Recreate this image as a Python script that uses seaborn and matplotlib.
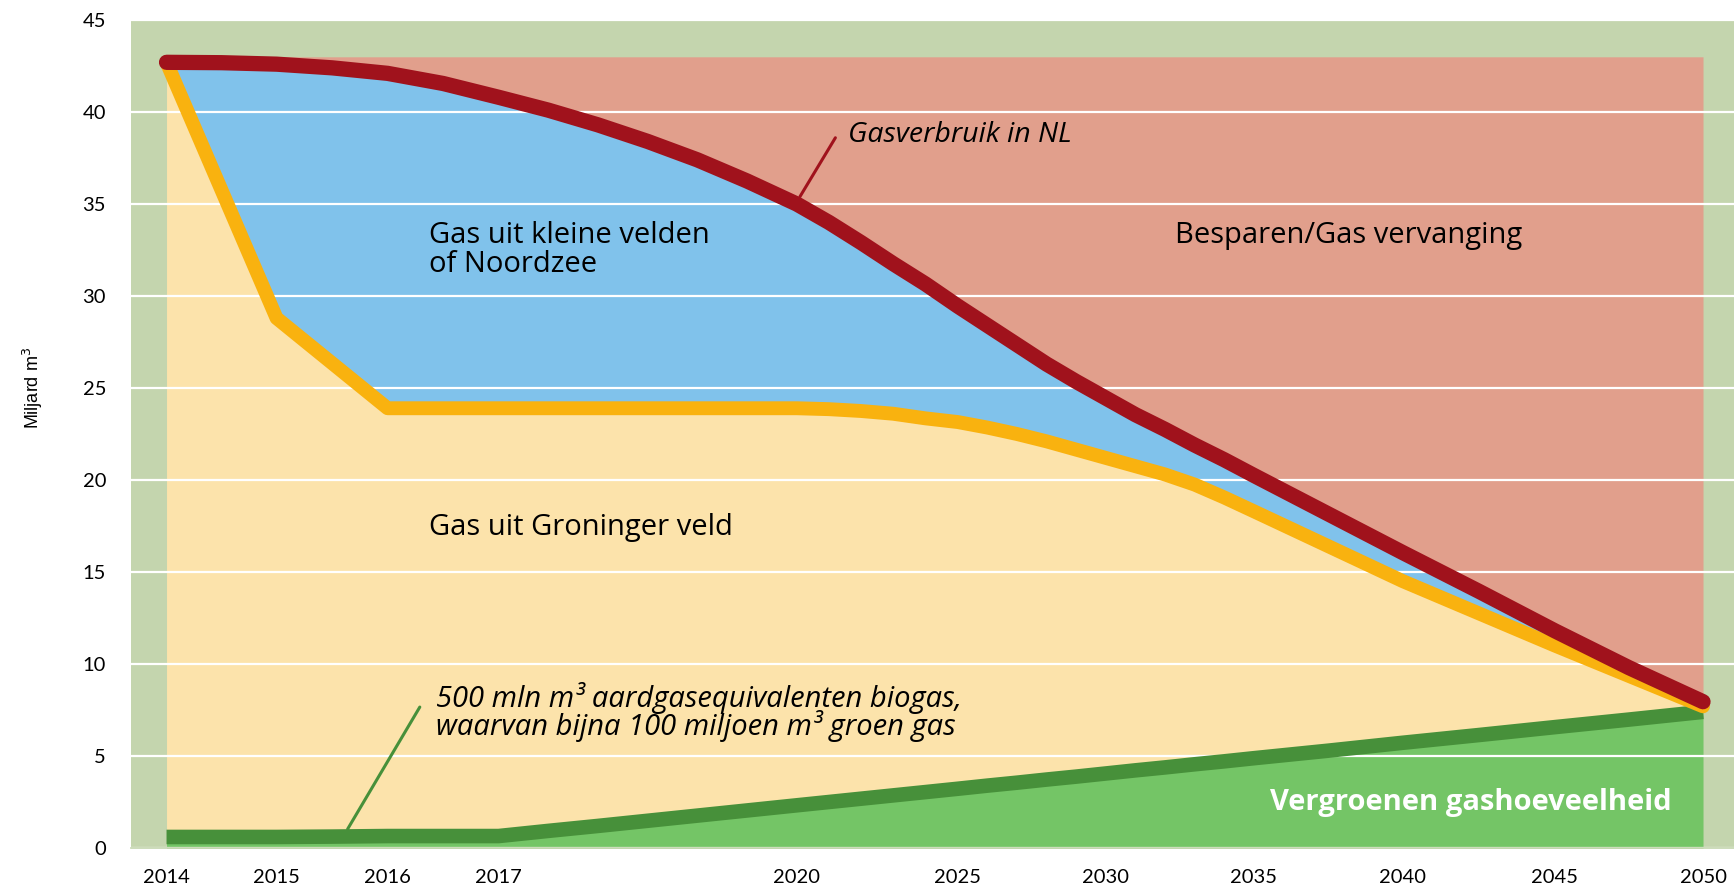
import numpy as np
import pandas as pd
import matplotlib
matplotlib.use("Agg")
import matplotlib.pyplot as plt
import seaborn as sns

# jaren (x-as is niet lineair: 2014-2017 breed, daarna per 5 jaar)
years = [2014, 2014.5, 2015, 2015.5, 2016, 2016.5, 2017, 2017.5, 2018, 2018.5, 2019, 2019.5,
         2020, 2021, 2022, 2023, 2024, 2025, 2026, 2027, 2028, 2029,
         2030, 2031, 2032, 2033, 2034, 2035,
         2037.5, 2040, 2042.5, 2045, 2047.5, 2050]
gasverbruik = [42.7, 42.68, 42.6, 42.4, 42.1, 41.55, 40.8, 40.1, 39.3, 38.4, 37.4, 36.25,
               35.0, 34.0, 32.9, 31.75, 30.65, 29.45, 28.4, 27.35, 26.3, 25.35,
               24.45, 23.55, 22.75, 21.9, 21.1, 20.25,
               18.15, 16.05, 13.95, 11.8, 9.8, 7.95]
groningen = [42.7, 35.75, 28.8, 26.35, 23.9, 23.9, 23.9, 23.9, 23.9, 23.9, 23.9, 23.9,
             23.9, 23.85, 23.75, 23.6, 23.35, 23.15, 22.85, 22.5, 22.1, 21.65,
             21.2, 20.75, 20.3, 19.75, 19.05, 18.3,
             16.4, 14.5, 12.75, 11.0, 9.35, 7.7]
groen_gas = [0.6, 0.6, 0.6, 0.62, 0.65, 0.65, 0.65, 0.93, 1.2, 1.48, 1.76, 2.04,
             2.32, 2.5, 2.68, 2.86, 3.04, 3.22, 3.39, 3.55, 3.72, 3.88,
             4.05, 4.22, 4.38, 4.55, 4.71, 4.88,
             5.29, 5.72, 6.14, 6.57, 6.98, 7.4]
top_level = 43

tick_years = [2014, 2015, 2016, 2017, 2020, 2025, 2030, 2035, 2040, 2045, 2050]
y_ticks = [0, 5, 10, 15, 20, 25, 30, 35, 40, 45]

df = pd.DataFrame({'jaar': years, 'verbruik': gasverbruik,
                   'groningen': groningen, 'groen': groen_gas})

# schaal van de x-as zoals in de figuur (afstand per tick)
scale_years = [2013] + tick_years + [2052]
scale_pos = [56, 167, 277, 388, 499, 797, 958, 1106, 1254, 1403, 1555, 1703, 1762]


def fwd(x):
    return np.interp(x, scale_years, scale_pos)


def inv(p):
    return np.interp(p, scale_pos, scale_years)


sns.set_theme(style='white')
plt.rcParams['font.family'] = ['Lato', 'DejaVu Sans']
plt.rcParams['text.color'] = 'black'
label_font = ['Open Sans', 'DejaVu Sans']

fig = plt.figure(figsize=(17.34, 8.88), dpi=100)
ax = fig.add_axes([131 / 1734, 1 - 848 / 888, 1 - 131 / 1734, 828 / 888])
ax.set_xscale('function', functions=(fwd, inv))
ax.set_facecolor('#c4d5ae')

# vlakken
ax.fill_between(df['jaar'], df['verbruik'], top_level, color='#e19f8c', lw=0, zorder=1)
ax.fill_between(df['jaar'], df['groningen'], df['verbruik'], color='#80c2eb', lw=0, zorder=1)
ax.fill_between(df['jaar'], df['groen'], df['groningen'], color='#fce3ab', lw=0, zorder=1)
ax.fill_between(df['jaar'], 0, df['groen'], color='#74c566', lw=0, zorder=1)

# lijnen
sns.lineplot(data=df, x='jaar', y='groen', ax=ax, color='#47903a', lw=10.5,
             solid_capstyle='butt', solid_joinstyle='round', zorder=3)
sns.lineplot(data=df, x='jaar', y='groningen', ax=ax, color='#f9b20f', lw=10,
             solid_capstyle='round', solid_joinstyle='round', zorder=3)
sns.lineplot(data=df, x='jaar', y='verbruik', ax=ax, color='#a0121c', lw=11,
             solid_capstyle='round', solid_joinstyle='round', zorder=4)

ax.set_xlim(2013.68, 2051.05)
ax.set_ylim(0, 45)
ax.set_xticks(tick_years)
ax.set_xticklabels([str(y) for y in tick_years])
ax.set_yticks(y_ticks)
ax.tick_params(axis='both', length=0, labelsize=14.5, colors='black')
ax.tick_params(axis='x', pad=15)
ax.tick_params(axis='y', pad=18)
ax.set_xlabel('')
ax.set_ylabel('')

ax.set_axisbelow('line')
ax.yaxis.grid(True, color='white', lw=1.6)
ax.xaxis.grid(False)
for s in ['top', 'left', 'right']:
    ax.spines[s].set_visible(False)
ax.spines['bottom'].set_color('#c4d5ae')
ax.spines['bottom'].set_linewidth(1.2)

fig.text(33 / 1734, 1 - 388 / 888, 'Miljard m$^3$', rotation=90, va='center', ha='center',
         fontsize=13, family=['Liberation Sans', 'DejaVu Sans'])

# teksten
ax.text(2016.37, 32.5, 'Gas uit kleine velden\nof Noordzee', fontsize=21, family=label_font,
        va='center', ha='left', linespacing=1.0, zorder=5)
ax.text(2016.37, 17.4, 'Gas uit Groninger veld', fontsize=21, family=label_font,
        va='center', ha='left', zorder=5)
ax.text(2032.35, 33.3, 'Besparen/Gas vervanging', fontsize=21, family=label_font,
        va='center', ha='left', zorder=5)
ax.text(2021.6, 38.75, 'Gasverbruik in NL', fontsize=20.5, style='italic', family=label_font,
        va='center', ha='left', zorder=5)
ax.plot([2020.1, 2021.2], [35.4, 38.6], color='#a0121c', lw=2.2, zorder=5)
ax.text(2016.44, 7.4, '500 mln m³ aardgasequivalenten biogas,\nwaarvan bijna 100 miljoen m³ groen gas',
        fontsize=21, style='italic', family=label_font, va='center', ha='left',
        linespacing=0.85, zorder=5)
ax.plot([2015.64, 2016.29], [1.03, 7.66], color='#47903a', lw=2.2, zorder=2.5)
ax.text(2048.95, 2.5, 'Vergroenen gashoeveelheid', fontsize=21, fontweight='bold',
        family=label_font, color='white', va='center', ha='right', zorder=5)

fig.savefig('out.png', dpi=100)
